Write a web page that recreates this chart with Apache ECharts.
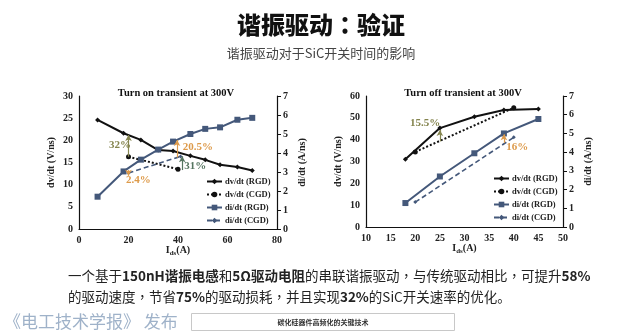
<!DOCTYPE html>
<html><head><meta charset="utf-8">
<script src="https://cdn.jsdelivr.net/npm/echarts@6/dist/echarts.min.js"></script>
<style>html,body{margin:0;padding:0;background:#fff}#c{width:640px;height:336px}</style>
</head><body><div id="c"></div>
<script>
// ---- Data: Turn on transient (left chart) ----
const onX = [7.5, 18, 25, 32, 38, 45, 51, 57, 64, 70];
const onDvRgd = [24.6, 21.6, 20.1, 17.8, 17.6, 16.5, 15.6, 14.5, 14.0, 13.2];
const onDiRgd = [1.7, 3.03, 3.65, 4.18, 4.6, 5.0, 5.27, 5.35, 5.75, 5.85];
const onDvCgdX = [20, 40];
const onDvCgd = [16.3, 13.5];
const onDiCgdX = [20, 41];
const onDiCgd = [2.95, 3.82];
// ---- Data: Turn off transient (right chart) ----
const offX = [18, 25, 32, 38, 45];
const offDvRgd = [31, 45.3, 50.5, 53.6, 54.0];
const offDiRgd = [1.28, 2.7, 3.94, 5.0, 5.77];
const offDvCgdX = [20, 40];
const offDvCgd = [34.4, 54.6];
const offDiCgdX = [20, 40];
const offDiCgd = [1.33, 4.79];
const legendNames = ['dv/dt (RGD)', 'dv/dt (CGD)', 'di/dt (RGD)', 'di/dt (CGD)'];

const pairs = (xs, ys) => xs.map((x, i) => [x, ys[i]]);
const SERIF = '"Liberation Serif","Times New Roman",serif';
const CJK = '"Noto Sans CJK SC","Noto Sans",sans-serif';
const CJKTC = '"Noto Sans CJK TC","Noto Sans CJK SC",sans-serif';
const BLUE = '#44587a';
const OLIVE = '#84844e';
const ORANGE = '#dd9a4a';
const GREEN = '#557560';

function arrow(x, y1, y2, color) {
  return [{ coord: [x, y1], lineStyle: { color: color, width: 1.2, type: 'solid' } }, { coord: [x, y2] }];
}
function note(x, y, text, color, align) {
  return { coord: [x, y], value: text,
    label: { show: true, formatter: text, color: color, fontFamily: SERIF, fontWeight: 'bold', fontSize: 11,
      position: 'inside', align: align || 'center', verticalAlign: 'middle' } };
}
function mk(lines, notes) {
  return {
    markLine: { silent: true, symbol: ['none', 'arrow'], symbolSize: [5, 6], label: { show: false },
      data: lines },
    markPoint: { silent: true, symbol: 'circle', symbolSize: 1, itemStyle: { color: 'rgba(0,0,0,0)' },
      data: notes }
  };
}

const axisLbl = { color: '#222', fontFamily: SERIF, fontWeight: 'bold', fontSize: 10 };
const axisLine = { show: true, lineStyle: { color: '#111', width: 1.2 } };
const nameStyle = { color: '#222', fontFamily: SERIF, fontWeight: 'bold', fontSize: 10 };
const xName = '{i|I}{s|ds}{i|(A)}';
const xNameStyle = { color: '#222', fontFamily: SERIF, fontWeight: 'bold',
  rich: { i: { fontFamily: SERIF, fontWeight: 'bold', fontSize: 10, color: '#222' },
          s: { fontFamily: SERIF, fontWeight: 'bold', fontSize: 7, color: '#222', verticalAlign: 'bottom', padding: [4, 0, 0, 0] } } };

function xAxis(gi, min, max, interval) {
  return { type: 'value', gridIndex: gi, min, max, interval, axisLine, axisTick: { show: false },
    splitLine: { show: false }, axisLabel: Object.assign({ margin: 6 }, axisLbl),
    name: xName, nameLocation: 'middle', nameGap: 16, nameTextStyle: xNameStyle };
}
function yAxis(gi, pos, min, max, interval, name, gap, ticks) {
  return { type: 'value', gridIndex: gi, position: pos, min, max, interval, axisLine,
    axisTick: { show: ticks, length: 4, lineStyle: { color: '#111' } }, splitLine: { show: false },
    axisLabel: Object.assign({ margin: 6 }, axisLbl),
    name, nameLocation: 'middle', nameRotate: 90, nameGap: gap, nameTextStyle: nameStyle };
}

const dvR = (xa, ya, data, extra) => Object.assign({ name: legendNames[0], type: 'line', xAxisIndex: xa, yAxisIndex: ya, data,
  symbol: 'diamond', symbolSize: 5, itemStyle: { color: '#111' }, lineStyle: { color: '#111', width: 2 } }, extra || {});
const dvC = (xa, ya, data, extra) => Object.assign({ name: legendNames[1], type: 'line', xAxisIndex: xa, yAxisIndex: ya, data,
  symbol: 'circle', symbolSize: 5, itemStyle: { color: '#111' }, lineStyle: { color: '#111', width: 2, type: 'dotted' } }, extra || {});
const diR = (xa, ya, data, extra) => Object.assign({ name: legendNames[2], type: 'line', xAxisIndex: xa, yAxisIndex: ya, data,
  symbol: 'rect', symbolSize: 6, itemStyle: { color: BLUE }, lineStyle: { color: BLUE, width: 2 } }, extra || {});
const diC = (xa, ya, data, extra) => Object.assign({ name: legendNames[3], type: 'line', xAxisIndex: xa, yAxisIndex: ya, data,
  symbol: 'diamond', symbolSize: 4, itemStyle: { color: BLUE }, lineStyle: { color: BLUE, width: 1.6, type: [5, 3] } }, extra || {});

const legendBase = { orient: 'vertical', itemWidth: 15, itemHeight: 7, itemGap: 4, padding: 0, data: legendNames,
  textStyle: { color: '#222', fontFamily: SERIF, fontWeight: 'bold', fontSize: 8.5, padding: [0, 0, 0, -2] }, selectedMode: false };

const option = {
  animation: false,
  backgroundColor: '#fff',
  grid: [
    { left: 79, top: 96, width: 198, height: 133 },
    { left: 366, top: 96, width: 197, height: 131 }
  ],
  xAxis: [xAxis(0, 0, 80, 20), xAxis(1, 10, 50, 5)],
  yAxis: [
    yAxis(0, 'left', 0, 30, 5, 'dv/dt (V/ns)', 23, false),
    yAxis(0, 'right', 0, 7, 1, 'di/dt (A/ns)', 20, true),
    yAxis(1, 'left', 0, 60, 10, 'dv/dt (V/ns)', 23, false),
    yAxis(1, 'right', 0, 7, 1, 'di/dt (A/ns)', 20, true)
  ],
  legend: [
    Object.assign({ left: 206, top: 177 }, legendBase),
    Object.assign({ left: 493, top: 174 }, legendBase)
  ],
  series: [
    dvR(0, 0, pairs(onX, onDvRgd), mk(
      [arrow(20, 16.3, 21.2, OLIVE), arrow(41.7, 13.3, 16.4, GREEN)],
      [note(16.6, 18.8, '32%', OLIVE), note(47, 14.1, '31%', GREEN)])),
    dvC(0, 0, pairs(onDvCgdX, onDvCgd)),
    diR(0, 1, pairs(onX, onDiRgd), mk(
      [arrow(20, 3.1, 2.8, ORANGE), arrow(39.6, 3.76, 4.68, ORANGE)],
      [note(24, 2.58, '2.4%', ORANGE), note(48, 4.32, '20.5%', ORANGE)])),
    diC(0, 1, pairs(onDiCgdX, onDiCgd)),
    dvR(1, 2, pairs(offX, offDvRgd), mk(
      [arrow(25, 39.2, 44.4, OLIVE)],
      [note(22, 47.7, '15.5%', OLIVE)])),
    dvC(1, 2, pairs(offDvCgdX, offDvCgd)),
    diR(1, 3, pairs(offX, offDiRgd), mk(
      [arrow(38, 4.5, 4.95, ORANGE)],
      [note(40.7, 4.26, '16%', ORANGE)])),
    diC(1, 3, pairs(offDiCgdX, offDiCgd))
  ],
  graphic: [
    { type: 'text', x: 321, y: 25, style: {
        text: '{a|谐振驱动}{c|：}{a|验证}',
        textAlign: 'center', textVerticalAlign: 'middle', align: 'center', verticalAlign: 'middle',
        rich: { a: { font: '900 24px ' + CJK, fill: '#111', color: '#111' }, c: { font: '900 24px ' + CJKTC, fill: '#111', color: '#111' } } } },
    { type: 'text', x: 321, y: 53, style: { text: '谐振驱动对于SiC开关时间的影响', font: '13px ' + CJK, fill: '#444', textAlign: 'center', textVerticalAlign: 'middle', align: 'center', verticalAlign: 'middle' } },
    { type: 'text', x: 176, y: 93, style: { text: 'Turn on transient at 300V', font: 'bold 10.5px ' + SERIF, fill: '#111', textAlign: 'center', textVerticalAlign: 'middle', align: 'center', verticalAlign: 'middle' } },
    { type: 'text', x: 463, y: 93, style: { text: 'Turn off transient at 300V', font: 'bold 10.5px ' + SERIF, fill: '#111', textAlign: 'center', textVerticalAlign: 'middle', align: 'center', verticalAlign: 'middle' } },
    { type: 'text', x: 68, y: 276, style: {
        text: '{n|一个基于}{b|150nH谐振电感}{n|和}{b|5Ω驱动电阻}{n|的串联谐振驱动}{p|，}{n|与传统驱动相比}{p|，}{n|可提升}{b|58%}',
        textVerticalAlign: 'middle', verticalAlign: 'middle',
        rich: { n: { font: '13.5px ' + CJK, fill: '#222', color: '#222' }, p: { font: '13.5px ' + CJKTC, fill: '#222', color: '#222' }, b: { font: 'bold 13.5px ' + CJK, fill: '#222', color: '#222' } } } },
    { type: 'text', x: 68, y: 297, style: {
        text: '{n|的驱动速度}{p|，}{n|节省}{b|75%}{n|的驱动损耗}{p|，}{n|并且实现}{b|32%}{n|的SiC开关速率的优化。}',
        textVerticalAlign: 'middle', verticalAlign: 'middle',
        rich: { n: { font: '13.5px ' + CJK, fill: '#222', color: '#222' }, p: { font: '13.5px ' + CJKTC, fill: '#222', color: '#222' }, b: { font: 'bold 13.5px ' + CJK, fill: '#222', color: '#222' } } } },
    { type: 'text', x: 4, y: 322, style: { text: '《电工技术学报》 发布', font: '17px ' + CJK, fill: '#9fb2c9', textVerticalAlign: 'middle', verticalAlign: 'middle' } },
    { type: 'rect', shape: { x: 191.5, y: 313.5, width: 263, height: 17 }, style: { fill: '#fff', stroke: '#c8c8c8', lineWidth: 1 } },
    { type: 'text', x: 323, y: 322, style: { text: '碳化硅器件高频化的关键技术', font: 'bold 7px ' + CJK, fill: '#333', textAlign: 'center', textVerticalAlign: 'middle', align: 'center', verticalAlign: 'middle' } }
  ]
};
const chart = echarts.init(document.getElementById('c'), null, { renderer: 'canvas' });
chart.setOption(option);
</script>
</body></html>
